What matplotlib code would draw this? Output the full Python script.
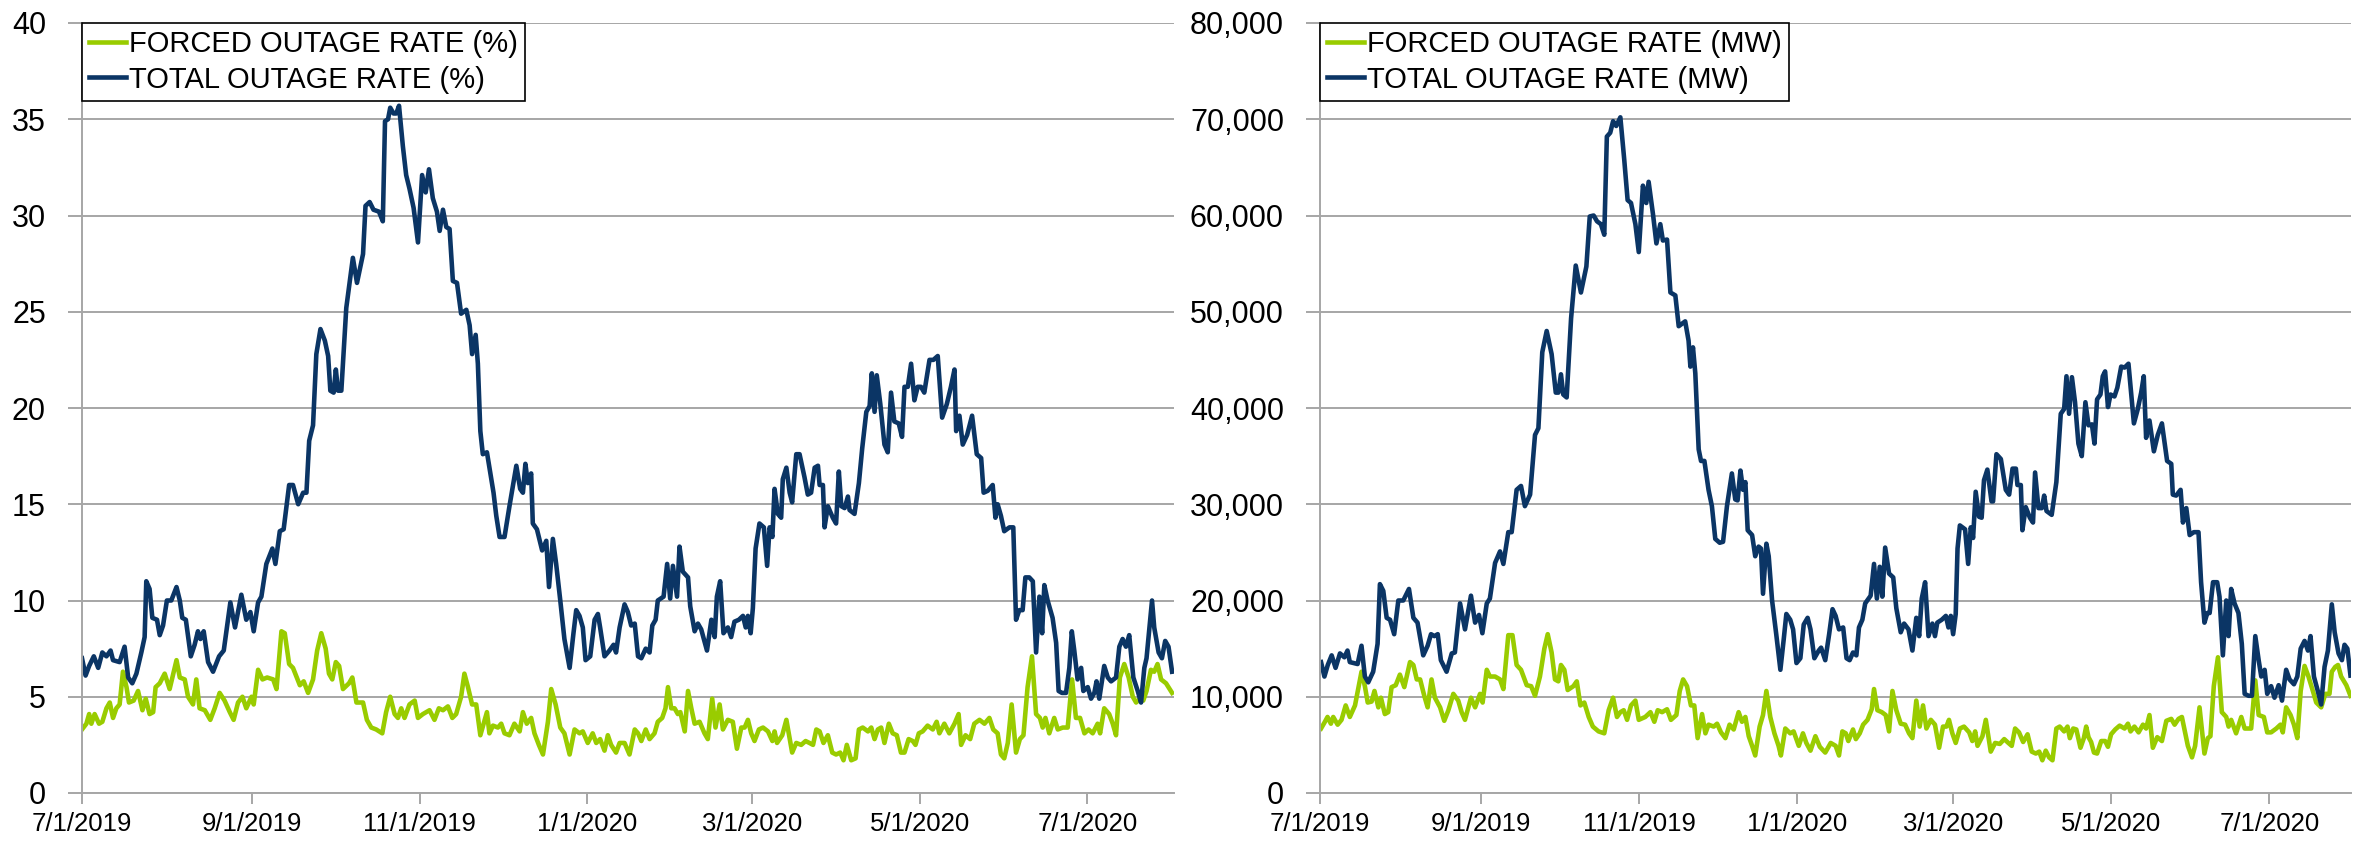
"""Forced vs total outage rate, 7/2019 - 7/2020, in % and in MW (two panels)."""

from datetime import date

import numpy as np
import matplotlib
matplotlib.use("Agg")
import matplotlib.pyplot as plt
import matplotlib.dates as mdates
import matplotlib.ticker as mticker

plt.rcParams["font.family"] = ["Liberation Sans", "DejaVu Sans"]

START = date(2019, 7, 1)
TICK_DATES = [date(2019, 7, 1), date(2019, 9, 1), date(2019, 11, 1), date(2020, 1, 1),
              date(2020, 3, 1), date(2020, 5, 1), date(2020, 7, 1)]

# --- left panel: outage rate in % (days counted from 7/1/2019) ---
TOTAL_PCT_DAYS = [
    0, 1.3, 2.6, 4.3, 5.9, 7.4, 8.9, 10.4, 11.3, 13.7,
    15.5, 16.8, 18.3, 19.8, 21.6, 22.8, 23.4, 24.6, 25.6, 27.3,
    28.3, 29.5, 30.9, 32.5, 34.4, 35.6, 36.5, 37.8, 39.6, 41.0,
    42.2, 43.1, 44.3, 45.9, 47.7, 49.9, 51.6, 54.0, 55.7, 58.0,
    59.8, 61.3, 62.5, 64.1, 65.3, 67.1, 69.3, 70.4, 72.0, 73.4,
    75.4, 76.8, 78.7, 80.5, 81.7, 82.7, 84.1, 85.3, 86.8, 88.4,
    89.6, 90.4, 91.6, 92.4, 93.2, 94.4, 96.2, 98.6, 100.1, 102.3,
    103.2, 104.7, 106.1, 108.1, 109.5, 110.3, 111.4, 112.2, 113.4, 114.4,
    115.4, 116.8, 118.0, 119.2, 120.7, 122.3, 123.8, 125.1, 126.3, 127.7,
    129.2, 130.2, 131.4, 132.6, 133.8, 135.0, 136.5, 138.0, 139.9, 141.1,
    142.0, 143.3, 144.1, 145.0, 145.9, 147.4, 148.3, 149.8, 150.8, 152.0,
    153.8, 155.6, 158.1, 159.5, 160.5, 161.4, 162.3, 163.5, 164.1, 165.6,
    167.5, 169.0, 170.0, 171.4, 172.6, 174.1, 175.6, 177.5, 178.9, 179.9,
    181.1, 182.3, 183.3, 185.0, 186.6, 187.8, 188.6, 190.2, 192.0, 193.5,
    194.4, 195.7, 197.5, 198.7, 199.9, 201.2, 202.4, 203.6, 205.2, 206.6,
    207.6, 208.8, 209.6, 211.7, 213.0, 214.1, 215.1, 216.6, 217.5, 218.7,
    220.6, 221.4, 223.0, 224.2, 225.4, 227.5, 229.1, 230.3, 231.1, 232.3,
    233.5, 235.1, 236.3, 237.5, 239.1, 240.6, 241.6, 242.4, 243.4, 244.2,
    245.2, 246.6, 248.2, 249.4, 250.3, 251.3, 252.1, 253.3, 254.5, 255.1,
    256.4, 257.6, 258.5, 260.0, 261.2, 263.0, 264.2, 265.4, 266.7, 267.9,
    268.5, 269.7, 270.3, 271.5, 273.3, 274.5, 275.5, 276.4, 277.6, 278.8,
    279.4, 281.2, 282.8, 284.0, 285.5, 286.7, 287.5, 288.5, 289.3, 290.6,
    292.1, 293.3, 294.5, 295.7, 297.3, 298.5, 299.4, 300.6, 301.8, 303.0,
    304.2, 305.4, 306.6, 308.5, 309.9, 311.5, 313.1, 314.8, 316.3, 317.6,
    318.2, 319.4, 320.6, 322.2, 324.0, 325.7, 327.3, 328.2, 329.7, 331.5,
    332.5, 333.3, 334.5, 335.7, 337.6, 339.0, 340.0, 341.2, 342.4, 343.4,
    344.8, 346.1, 347.3, 348.5, 349.5, 350.3, 351.5, 353.3, 354.6, 355.5,
    356.7, 358.2, 359.4, 360.3, 361.2, 362.4, 363.7, 364.5, 366.1, 367.3,
    368.5, 369.3, 370.3, 372.1, 373.4, 374.6, 376.4, 377.6, 378.8, 380.0,
    381.2, 382.7, 384.3, 385.5, 386.7, 387.5, 388.5, 389.5, 390.3, 391.9,
    393.1, 394.3, 395.5, 396.8,
]
TOTAL_PCT = [
    7.0, 6.1, 6.6, 7.1, 6.5, 7.3, 7.1, 7.4, 6.9, 6.8,
    7.6, 6.0, 5.7, 6.2, 7.3, 8.1, 11.0, 10.6, 9.1, 9.0,
    8.2, 8.7, 10.0, 10.0, 10.7, 10.0, 9.1, 9.0, 7.1, 7.7,
    8.4, 8.0, 8.4, 6.8, 6.3, 7.1, 7.4, 9.9, 8.6, 10.3,
    9.0, 9.4, 8.4, 9.9, 10.2, 11.9, 12.7, 11.9, 13.6, 13.7,
    16.0, 16.0, 15.0, 15.6, 15.6, 18.3, 19.1, 22.8, 24.1, 23.5,
    22.7, 20.9, 20.8, 22.0, 20.9, 20.9, 25.2, 27.8, 26.5, 28.0,
    30.5, 30.7, 30.3, 30.2, 29.7, 34.9, 35.0, 35.6, 35.3, 35.3,
    35.7, 33.6, 32.1, 31.4, 30.4, 28.6, 32.1, 31.2, 32.4, 30.9,
    30.2, 29.2, 30.3, 29.4, 29.3, 26.6, 26.5, 24.9, 25.1, 24.3,
    22.8, 23.8, 22.3, 18.8, 17.6, 17.7, 16.9, 15.6, 14.4, 13.3,
    13.3, 14.9, 17.0, 15.8, 15.6, 17.1, 16.1, 16.6, 14.0, 13.7,
    12.6, 13.1, 10.7, 13.2, 11.9, 10.0, 8.0, 6.5, 8.3, 9.5,
    9.2, 8.6, 6.9, 7.1, 9.0, 9.3, 8.6, 7.1, 7.4, 7.7,
    7.3, 8.6, 9.8, 9.4, 8.7, 8.8, 7.1, 7.0, 7.5, 7.3,
    8.7, 9.0, 10.0, 10.2, 11.9, 10.1, 11.8, 10.2, 12.8, 11.5,
    11.2, 9.7, 8.4, 8.8, 8.5, 7.4, 9.0, 8.1, 10.2, 11.0,
    8.3, 8.6, 8.1, 8.9, 9.0, 9.2, 8.6, 9.2, 8.3, 9.6,
    12.7, 14.0, 13.8, 11.8, 13.8, 13.3, 15.8, 14.5, 14.3, 16.3,
    16.9, 15.6, 15.1, 17.6, 17.6, 16.4, 15.5, 15.6, 16.9, 17.0,
    16.0, 16.0, 13.8, 14.9, 14.3, 14.0, 16.7, 14.9, 14.8, 15.4,
    14.7, 14.5, 16.1, 17.9, 19.8, 20.1, 21.8, 19.8, 21.7, 20.2,
    18.1, 17.7, 20.8, 19.3, 19.2, 18.5, 21.1, 21.1, 22.3, 20.4,
    21.1, 21.1, 20.8, 22.5, 22.5, 22.7, 19.5, 20.2, 21.1, 22.0,
    18.8, 19.6, 18.1, 18.6, 19.6, 17.6, 17.4, 15.6, 15.7, 16.0,
    14.3, 15.0, 14.4, 13.6, 13.8, 13.8, 9.0, 9.5, 9.5, 11.2,
    11.2, 11.0, 7.3, 10.2, 8.3, 10.8, 10.0, 9.1, 7.8, 5.3,
    5.2, 5.2, 6.5, 8.4, 7.4, 5.9, 6.5, 5.3, 5.5, 4.9,
    5.2, 5.8, 4.9, 6.6, 6.0, 5.8, 6.0, 7.6, 8.0, 7.6,
    8.2, 6.0, 5.3, 4.7, 6.5, 7.0, 8.5, 10.0, 8.6, 7.3,
    7.0, 7.9, 7.6, 6.3,
]

FORCED_PCT_DAYS = [
    0, 1.6, 2.6, 3.4, 4.6, 6.2, 7.4, 8.9, 10.1, 11.3,
    12.5, 13.7, 14.9, 16.2, 17.1, 18.8, 20.4, 22.0, 23.2, 24.6,
    25.9, 26.8, 28.3, 30.1, 31.9, 34.4, 35.6, 37.4, 38.6, 40.4,
    41.6, 42.8, 44.7, 46.7, 48.3, 50.1, 51.9, 53.8, 55.2, 56.8,
    58.4, 59.8, 61.7, 62.5, 64.1, 65.7, 67.4, 69.6, 70.8, 72.6,
    73.8, 75.4, 76.8, 79.3, 80.7, 82.3, 84.1, 85.6, 87.1, 88.7,
    89.9, 91.1, 92.4, 93.6, 95.0, 97.2, 98.4, 99.9, 102.3, 103.7,
    105.3, 107.1, 109.3, 110.7, 112.2, 113.8, 115.0, 116.2, 117.4, 119.2,
    121.1, 122.3, 124.1, 126.5, 128.3, 129.9, 131.4, 133.2, 134.8, 136.2,
    138.0, 139.2, 140.5, 142.0, 143.5, 145.0, 146.2, 147.4, 148.3, 149.6,
    151.4, 152.6, 153.8, 155.6, 157.4, 159.3, 160.5, 161.9, 163.5, 164.7,
    166.3, 167.8, 169.6, 170.8, 172.4, 174.1, 175.6, 177.5, 179.3, 181.1,
    182.3, 184.1, 185.9, 187.2, 188.6, 190.2, 191.4, 192.6, 194.4, 195.7,
    197.5, 199.3, 201.2, 202.4, 203.6, 205.2, 206.6, 208.4, 209.6, 211.2,
    212.4, 213.3, 214.5, 215.7, 216.9, 217.8, 219.4, 220.6, 221.8, 223.0,
    224.8, 226.6, 227.8, 229.4, 230.6, 232.1, 233.3, 235.1, 236.9, 238.4,
    240.0, 241.2, 242.4, 243.6, 244.8, 246.4, 247.9, 249.7, 251.3, 252.1,
    253.0, 254.9, 256.4, 258.5, 260.0, 261.8, 263.4, 264.8, 266.1, 267.3,
    268.5, 269.9, 271.5, 273.1, 274.5, 276.0, 277.2, 278.4, 280.0, 281.6,
    282.8, 284.2, 286.1, 287.3, 288.5, 289.7, 290.9, 292.1, 293.7, 295.1,
    296.6, 298.1, 299.4, 300.9, 302.4, 303.4, 304.6, 306.0, 307.8, 309.7,
    311.1, 312.1, 313.9, 315.7, 317.6, 319.1, 320.0, 321.6, 323.3, 324.8,
    326.7, 328.5, 330.3, 331.7, 333.3, 334.5, 335.7, 337.0, 338.4, 340.0,
    341.4, 342.7, 344.2, 345.8, 347.3, 348.7, 349.7, 350.7, 352.1, 353.9,
    355.2, 357.0, 358.8, 360.4, 361.8, 363.3, 364.9, 366.4, 367.9, 369.7,
    370.6, 372.1, 373.9, 375.2, 376.4, 377.8, 379.4, 381.0, 382.5, 383.7,
    385.1, 386.3, 387.5, 389.1, 390.3, 391.5, 392.8, 394.6, 396.8,
]
FORCED_PCT = [
    3.3, 3.6, 4.1, 3.6, 4.1, 3.6, 3.7, 4.4, 4.7, 3.9,
    4.4, 4.6, 6.3, 5.5, 4.7, 4.8, 5.3, 4.3, 4.9, 4.1,
    4.2, 5.5, 5.7, 6.2, 5.4, 6.9, 6.0, 5.9, 5.0, 4.6,
    5.9, 4.4, 4.3, 3.8, 4.4, 5.2, 4.8, 4.2, 3.8, 4.7,
    5.0, 4.4, 5.0, 4.6, 6.4, 5.9, 6.0, 5.9, 5.4, 8.4,
    8.3, 6.7, 6.5, 5.6, 5.8, 5.2, 5.9, 7.4, 8.3, 7.5,
    6.2, 5.9, 6.8, 6.6, 5.4, 5.7, 6.0, 4.7, 4.7, 3.8,
    3.4, 3.3, 3.1, 4.2, 5.0, 4.1, 3.9, 4.4, 3.9, 4.6,
    4.8, 3.9, 4.1, 4.3, 3.8, 4.4, 4.3, 4.5, 3.9, 4.1,
    5.0, 6.2, 5.5, 4.6, 4.6, 3.0, 3.6, 4.2, 3.1, 3.5,
    3.4, 3.6, 3.1, 3.0, 3.6, 3.2, 4.2, 3.6, 3.9, 3.1,
    2.5, 2.0, 3.7, 5.4, 4.6, 3.4, 3.1, 2.0, 3.3, 3.1,
    3.2, 2.6, 3.1, 2.6, 2.8, 2.2, 3.0, 2.5, 2.1, 2.6,
    2.6, 2.0, 3.3, 3.1, 2.7, 3.3, 2.8, 3.1, 3.7, 3.9,
    4.4, 5.5, 4.4, 4.4, 4.1, 4.2, 3.2, 5.3, 4.4, 3.6,
    3.7, 3.1, 2.8, 4.9, 3.4, 4.6, 3.3, 3.8, 3.7, 2.3,
    3.4, 3.4, 3.8, 3.1, 2.7, 3.3, 3.4, 3.2, 2.7, 3.2,
    2.6, 3.0, 3.8, 2.1, 2.6, 2.5, 2.7, 2.6, 2.5, 3.3,
    3.2, 2.6, 3.0, 2.1, 2.0, 2.1, 1.7, 2.5, 1.7, 1.8,
    3.3, 3.4, 3.2, 3.4, 2.8, 3.3, 3.4, 2.6, 3.6, 3.1,
    3.0, 2.1, 2.1, 2.8, 2.7, 2.5, 3.1, 3.2, 3.5, 3.3,
    3.7, 3.1, 3.6, 3.1, 3.6, 4.1, 2.5, 3.0, 2.8, 3.6,
    3.8, 3.6, 3.9, 3.3, 3.1, 2.0, 1.8, 2.6, 4.6, 2.1,
    2.8, 3.0, 5.5, 7.1, 4.1, 3.9, 3.4, 3.9, 3.1, 3.9,
    3.3, 3.4, 3.4, 5.9, 3.9, 3.9, 3.1, 3.3, 3.1, 3.6,
    3.1, 4.4, 4.1, 3.6, 3.0, 6.0, 6.7, 6.0, 5.0, 4.7,
    4.9, 4.8, 5.3, 6.4, 6.3, 6.7, 5.9, 5.7, 5.2,
]

# --- right panel: outage in MW ---
TOTAL_MW_DAYS = [
    0.4, 1.7, 3.0, 4.5, 6.0, 7.7, 9.4, 10.6, 11.5, 14.5,
    16.0, 17.3, 18.6, 20.5, 22.2, 23.1, 24.4, 25.7, 27.0, 28.6,
    30.2, 32.1, 34.3, 36.0, 37.6, 39.8, 41.5, 42.8, 44.1, 45.4,
    46.6, 48.8, 50.8, 52.0, 54.0, 55.9, 58.2, 59.8, 61.3, 62.6,
    64.3, 65.5, 67.5, 69.4, 70.7, 72.6, 73.9, 75.8, 77.5, 79.0,
    81.0, 82.9, 84.2, 85.7, 87.4, 89.3, 90.9, 91.9, 92.9, 93.8,
    95.1, 96.8, 98.6, 100.6, 102.7, 104.0, 105.5, 106.8, 108.3, 109.6,
    110.6, 111.9, 113.0, 114.2, 115.8, 117.3, 118.6, 119.9, 121.6, 122.9,
    124.5, 125.8, 126.7, 128.4, 129.7, 131.2, 132.2, 133.8, 135.1, 137.0,
    138.3, 140.8, 142.1, 142.8, 143.8, 144.7, 146.0, 146.9, 148.2, 149.8,
    151.1, 152.4, 154.1, 155.4, 156.9, 158.8, 160.1, 161.0, 162.1, 163.1,
    164.0, 164.9, 166.6, 167.8, 169.1, 170.0, 170.8, 172.1, 173.0, 174.3,
    175.9, 177.5, 178.8, 179.8, 181.3, 182.4, 183.7, 185.2, 186.5, 188.0,
    189.1, 190.6, 192.3, 193.2, 194.8, 196.3, 197.6, 198.8, 200.1, 201.7,
    203.0, 204.2, 205.5, 206.8, 207.8, 209.1, 210.2, 212.3, 213.6, 214.7,
    215.8, 216.8, 217.9, 219.4, 221.0, 222.2, 223.9, 225.2, 226.9, 228.4,
    229.9, 231.0, 232.0, 233.3, 234.6, 236.1, 237.1, 238.0, 239.7, 241.3,
    242.3, 243.2, 244.1, 245.1, 245.8, 246.7, 248.7, 249.9, 250.9, 251.8,
    252.8, 254.1, 255.1, 256.0, 257.3, 258.9, 259.5, 260.8, 262.5, 264.4,
    265.7, 267.0, 268.3, 268.9, 270.2, 270.8, 272.1, 273.7, 274.9, 275.7,
    277.0, 278.3, 279.2, 280.1, 282.1, 283.9, 285.6, 286.9, 287.8, 288.8,
    289.9, 291.1, 292.4, 293.7, 295.1, 296.3, 297.6, 298.6, 299.6, 300.9,
    301.8, 302.7, 303.8, 304.8, 306.3, 307.4, 308.9, 310.2, 311.7, 313.8,
    315.3, 316.6, 317.6, 318.5, 319.8, 321.5, 323.0, 324.6, 326.6, 328.2,
    328.8, 330.1, 331.8, 332.7, 334.0, 335.3, 336.9, 338.7, 339.7, 341.0,
    342.1, 343.0, 344.3, 345.9, 346.8, 348.1, 349.4, 350.3, 351.3, 352.6,
    354.1, 355.4, 356.5, 358.0, 359.3, 360.6, 361.9, 362.9, 364.2, 365.2,
    366.7, 368.0, 369.6, 370.9, 372.5, 373.8, 375.5, 376.8, 378.1, 379.6,
    380.9, 381.9, 383.2, 384.7, 386.0, 387.3, 388.6, 390.1, 391.2, 392.7,
    394.0, 395.0, 396.1, 397.3,
]
TOTAL_MW = [
    13600, 12100, 13300, 14300, 13000, 14500, 14100, 14800, 13600, 13400,
    15300, 12100, 11500, 12600, 15500, 21700, 21000, 18200, 18000, 16500,
    20000, 20000, 21200, 18200, 17700, 14300, 15300, 16500, 16300, 16500,
    13800, 12600, 14500, 14600, 19700, 17000, 20500, 17700, 18500, 16600,
    19700, 20200, 23900, 25100, 23800, 27100, 27100, 31500, 31900, 29800,
    31000, 37200, 37900, 45800, 48000, 45600, 41600, 41600, 43500, 41400,
    41100, 49300, 54800, 52000, 54700, 59900, 60000, 59400, 59100, 58000,
    68200, 68600, 69800, 69300, 70200, 65800, 61600, 61300, 59100, 56200,
    63100, 61300, 63500, 60100, 57100, 59100, 57400, 57500, 52000, 51700,
    48500, 49000, 47000, 44300, 46300, 43600, 35700, 34500, 34500, 31500,
    29800, 26400, 26000, 26100, 29800, 33200, 30500, 30400, 33500, 31500,
    32300, 27300, 26800, 24600, 25600, 25400, 20700, 25900, 24600, 20000,
    16500, 12800, 16000, 18600, 18000, 17000, 13500, 14000, 17500, 18200,
    17000, 14000, 14800, 15100, 13800, 16500, 19100, 18400, 17000, 17200,
    14000, 13800, 14600, 14300, 17200, 18000, 19700, 20500, 23800, 20200,
    23500, 20400, 25500, 22800, 22400, 19200, 16700, 17600, 17000, 14800,
    18200, 16300, 20200, 21900, 16300, 17600, 16300, 17700, 18000, 18400,
    17200, 18400, 16500, 18600, 25400, 27800, 27400, 23800, 27600, 26500,
    31300, 28700, 28600, 32500, 33600, 30300, 30300, 35200, 34700, 31500,
    31000, 33700, 33700, 32000, 32000, 27300, 29700, 28600, 28100, 33300,
    29600, 29600, 30900, 29300, 28900, 32300, 39400, 39900, 43300, 39400,
    43200, 40600, 36300, 35000, 40600, 38200, 38300, 36300, 40900, 41400,
    43300, 43800, 40100, 41400, 41200, 42100, 44300, 44200, 44600, 38400,
    39900, 41600, 43300, 36900, 38700, 35500, 37200, 38400, 34500, 34200,
    31000, 30900, 31500, 28100, 29600, 26800, 27100, 27100, 21900, 17700,
    18700, 18700, 21900, 21900, 20400, 14300, 20000, 16300, 21200, 19700,
    18700, 15500, 10300, 10100, 10100, 16300, 13800, 12100, 12800, 10300,
    11100, 9900, 11200, 9600, 12800, 11800, 11300, 12100, 15000, 15800,
    14800, 16300, 12100, 10600, 9200, 13100, 14800, 19600, 16700, 14500,
    13800, 15400, 15000, 12200,
]

FORCED_MW_DAYS = [
    0.4, 1.9, 2.9, 4.2, 5.1, 6.8, 8.3, 9.9, 11.5, 13.5,
    16.0, 17.3, 18.4, 19.9, 21.0, 22.5, 23.5, 25.0, 26.3, 27.6,
    29.2, 30.8, 32.5, 34.7, 36.0, 37.3, 38.6, 40.2, 41.5, 43.0,
    44.3, 46.3, 47.9, 49.5, 51.4, 53.3, 54.6, 55.9, 58.2, 59.8,
    61.7, 62.7, 64.3, 65.5, 67.5, 69.4, 70.7, 72.6, 74.2, 75.8,
    77.5, 79.7, 81.4, 82.9, 84.8, 86.5, 87.8, 89.3, 90.6, 91.9,
    92.9, 94.2, 95.5, 97.7, 99.0, 100.4, 101.9, 103.6, 105.2, 107.4,
    109.6, 111.3, 113.0, 114.5, 115.8, 117.1, 118.4, 119.9, 121.6, 122.9,
    125.4, 127.4, 128.9, 130.2, 131.9, 133.8, 135.3, 137.4, 138.7, 140.0,
    141.5, 143.0, 144.3, 145.6, 147.3, 148.6, 149.8, 151.8, 153.1, 154.6,
    156.3, 157.9, 159.5, 161.4, 162.7, 164.0, 165.3, 166.6, 167.8, 169.5,
    170.8, 172.1, 173.6, 175.2, 176.8, 177.7, 179.4, 181.3, 182.6, 184.6,
    186.2, 187.5, 189.1, 191.0, 192.7, 194.8, 196.9, 198.8, 200.1, 201.4,
    202.7, 203.7, 205.5, 206.6, 208.1, 209.4, 211.1, 212.7, 213.6, 214.9,
    216.6, 218.1, 219.4, 220.7, 222.2, 223.9, 225.6, 227.1, 228.4, 229.9,
    231.2, 232.5, 233.8, 235.5, 237.1, 238.7, 240.2, 241.5, 242.5, 243.8,
    245.1, 246.7, 248.3, 250.3, 251.5, 252.6, 253.5, 255.4, 256.7, 258.6,
    260.3, 262.1, 263.8, 265.4, 266.7, 268.0, 269.5, 271.1, 272.8, 274.4,
    276.0, 277.3, 278.5, 279.8, 281.1, 282.4, 283.9, 285.2, 286.9, 288.2,
    289.1, 290.4, 291.6, 293.2, 294.5, 295.4, 296.3, 297.3, 298.4, 299.6,
    301.2, 302.7, 303.8, 305.0, 306.6, 308.3, 310.2, 311.5, 312.5, 314.0,
    315.6, 317.3, 318.5, 319.8, 321.1, 322.8, 324.6, 326.3, 328.2, 329.5,
    331.0, 332.3, 333.6, 334.6, 336.2, 337.4, 339.1, 341.0, 342.3, 343.3,
    344.6, 346.2, 347.7, 349.4, 350.3, 351.3, 353.2, 355.2, 356.5, 359.0,
    360.6, 361.9, 363.9, 365.2, 366.7, 368.7, 370.3, 371.2, 372.5, 374.2,
    375.5, 376.8, 378.1, 379.6, 381.1, 382.8, 384.1, 386.0, 387.6, 389.2,
    390.1, 391.4, 392.5, 393.7, 395.7, 397.3,
]
FORCED_MW = [
    6700, 7400, 7900, 7200, 7900, 7100, 7600, 9100, 7900, 9100,
    12600, 11100, 9400, 9500, 10600, 8900, 9900, 8200, 8400, 11000,
    11200, 12300, 11000, 13600, 13300, 11800, 11800, 10100, 8900, 11800,
    9900, 8900, 7500, 8600, 10300, 9600, 8400, 7600, 9900, 8900,
    10300, 9400, 12800, 12100, 12100, 11800, 10800, 16400, 16400, 13300,
    12800, 11200, 11100, 10100, 12100, 15000, 16500, 14600, 11800, 11600,
    13300, 12800, 10700, 11100, 11600, 9100, 9400, 7900, 6900, 6400,
    6200, 8600, 9900, 7900, 8400, 8600, 7600, 9100, 9600, 7600,
    7900, 8400, 7400, 8600, 8400, 8700, 7600, 8100, 10600, 11800,
    11100, 9100, 9100, 5700, 8200, 6200, 7100, 6900, 7200, 6300,
    5700, 7100, 6600, 8400, 7400, 7900, 5900, 4900, 3900, 6900,
    8100, 10600, 7900, 6200, 4900, 3900, 6700, 6200, 6400, 4900,
    6200, 5200, 4400, 5900, 4800, 4200, 5200, 4900, 3900, 6400,
    6200, 5400, 6600, 5600, 6200, 7100, 7600, 8700, 10800, 8600,
    8400, 8100, 6400, 10600, 8600, 7200, 7100, 6200, 5700, 9600,
    6900, 9100, 6700, 7600, 7100, 4700, 6900, 6900, 7600, 6200,
    5200, 6700, 6900, 6300, 5400, 6400, 4900, 5900, 7600, 4300,
    5200, 5100, 5600, 5200, 4900, 6700, 6300, 5300, 6100, 4300,
    4100, 4300, 3400, 4400, 3700, 3400, 6700, 6900, 6400, 6900,
    5700, 6700, 6600, 4700, 5700, 6900, 5800, 5300, 4200, 4100,
    5400, 5400, 4800, 6100, 6600, 7000, 6700, 7200, 6400, 6900,
    6300, 7100, 6700, 8100, 4700, 5800, 5400, 7500, 7700, 7100,
    7700, 7900, 6200, 4900, 3700, 4900, 8900, 4100, 5700, 5900,
    11100, 14100, 8400, 7900, 6900, 7600, 6200, 7900, 6700, 6700,
    11700, 8100, 7900, 6300, 6300, 6700, 7100, 6300, 8900, 8100,
    7100, 5700, 10600, 13200, 12100, 10600, 9400, 8900, 10300, 10300,
    12600, 13100, 13300, 12100, 11200, 10100,
]

GREEN = "#99cc00"
NAVY = "#0b3565"
GRID = "#a6a6a6"
W, H = 2356, 842


def to_x(days):
    return mdates.date2num(START) + np.asarray(days, dtype=float)


def draw_panel(ax, forced_days, forced, total_days, total, unit, ymax, ystep, fmt):
    assert len(forced_days) == len(forced), (unit, len(forced_days), len(forced))
    assert len(total_days) == len(total), (unit, len(total_days), len(total))
    ax.plot(to_x(forced_days), forced, color=GREEN, lw=3.3,
            label=f"FORCED OUTAGE RATE ({unit})", solid_joinstyle="round")
    ax.plot(to_x(total_days), total, color=NAVY, lw=3.3,
            label=f"TOTAL OUTAGE RATE ({unit})", solid_joinstyle="round")

    ax.set_xlim(to_x(0), to_x(397.5))
    ax.set_ylim(0, ymax)
    ax.set_yticks(np.arange(0, ymax + ystep, ystep))
    ax.yaxis.set_major_formatter(mticker.FuncFormatter(fmt))
    ax.set_xticks(mdates.date2num(TICK_DATES))
    ax.set_xticklabels([f"{d.month}/{d.day}/{d.year}" for d in TICK_DATES])

    ax.grid(axis="y", color=GRID, lw=1.4)
    ax.set_axisbelow(True)
    for s in ("top", "right"):
        ax.spines[s].set_visible(False)
    for s in ("left", "bottom"):
        ax.spines[s].set_color(GRID)
        ax.spines[s].set_linewidth(1.4)
    ax.tick_params(axis="y", length=10, width=1.4, color=GRID, pad=16, labelsize=22)
    # the reference's date labels sit right at the bottom edge; keep them just inside
    ax.tick_params(axis="x", length=8, width=1.4, color=GRID, pad=6, labelsize=18.5)

    leg = ax.legend(loc="upper left", bbox_to_anchor=(0, 1), borderaxespad=0,
                    fontsize=21, handlelength=1.25, handletextpad=0.1,
                    borderpad=0.25, labelspacing=0.25, fancybox=False,
                    edgecolor="black", framealpha=1)
    leg.get_frame().set_linewidth(1.2)


fig = plt.figure(figsize=(W / 100, H / 100), dpi=100)
ax1 = fig.add_axes([82 / W, 49 / H, 1092 / W, 770 / H])
ax2 = fig.add_axes([1320 / W, 49 / H, 1031 / W, 770 / H])

draw_panel(ax1, FORCED_PCT_DAYS, FORCED_PCT, TOTAL_PCT_DAYS, TOTAL_PCT, "%",
           40, 5, lambda v, p: f"{v:.0f}")
draw_panel(ax2, FORCED_MW_DAYS, FORCED_MW, TOTAL_MW_DAYS, TOTAL_MW, "MW",
           80000, 10000, lambda v, p: f"{v:,.0f}")

fig.savefig("out.png", dpi=100)
